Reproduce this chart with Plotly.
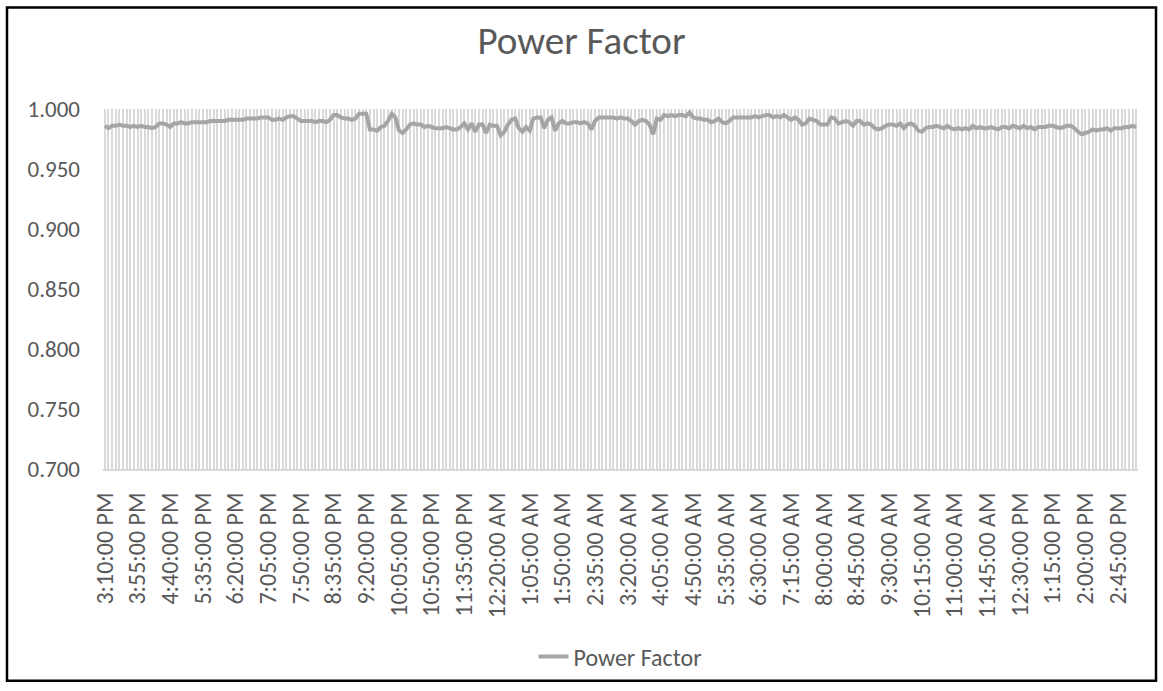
from datetime import datetime, timedelta
import plotly.graph_objects as go

# axis labels shown under the chart (every 9th reading)
tick_labels = [
    "3:10:00 PM", "3:55:00 PM", "4:40:00 PM", "5:35:00 PM", "6:20:00 PM", "7:05:00 PM",
    "7:50:00 PM", "8:35:00 PM", "9:20:00 PM", "10:05:00 PM", "10:50:00 PM", "11:35:00 PM",
    "12:20:00 AM", "1:05:00 AM", "1:50:00 AM", "2:35:00 AM", "3:20:00 AM", "4:05:00 AM",
    "4:50:00 AM", "5:35:00 AM", "6:30:00 AM", "7:15:00 AM", "8:00:00 AM", "8:45:00 AM",
    "9:30:00 AM", "10:15:00 AM", "11:00:00 AM", "11:45:00 AM", "12:30:00 PM", "1:15:00 PM",
    "2:00:00 PM", "2:45:00 PM",
]

# power factor readings, 5 minute log
power_factor = [
    0.986, 0.984, 0.986, 0.986, 0.987, 0.986, 0.986, 0.985, 0.986,
    0.985, 0.986, 0.985, 0.985, 0.984, 0.985, 0.988, 0.988, 0.987,
    0.985, 0.988, 0.988, 0.989, 0.988, 0.988, 0.989, 0.989, 0.989,
    0.989, 0.989, 0.990, 0.990, 0.990, 0.990, 0.990, 0.991, 0.991,
    0.991, 0.991, 0.991, 0.992, 0.992, 0.992, 0.992, 0.993, 0.993,
    0.993, 0.991, 0.991, 0.992, 0.991, 0.993, 0.994, 0.994, 0.992,
    0.990, 0.990, 0.990, 0.990, 0.989, 0.990, 0.990, 0.989, 0.991,
    0.995, 0.995, 0.993, 0.992, 0.992, 0.991, 0.992, 0.996, 0.996,
    0.996, 0.983, 0.983, 0.982, 0.985, 0.986, 0.990, 0.996, 0.993,
    0.982, 0.980, 0.983, 0.987, 0.988, 0.987, 0.987, 0.985, 0.986,
    0.985, 0.984, 0.984, 0.984, 0.985, 0.984, 0.983, 0.983, 0.985,
    0.988, 0.983, 0.988, 0.981, 0.987, 0.987, 0.980, 0.987, 0.986,
    0.986, 0.978, 0.981, 0.987, 0.991, 0.992, 0.984, 0.981, 0.985,
    0.982, 0.992, 0.993, 0.993, 0.984, 0.991, 0.993, 0.982, 0.988,
    0.990, 0.988, 0.988, 0.989, 0.989, 0.988, 0.989, 0.988, 0.983,
    0.990, 0.993, 0.993, 0.993, 0.993, 0.993, 0.992, 0.993, 0.992,
    0.992, 0.990, 0.987, 0.990, 0.991, 0.990, 0.987, 0.979, 0.992,
    0.991, 0.995, 0.994, 0.995, 0.994, 0.995, 0.995, 0.994, 0.997,
    0.993, 0.992, 0.992, 0.991, 0.991, 0.989, 0.990, 0.992, 0.989,
    0.988, 0.990, 0.993, 0.993, 0.993, 0.993, 0.993, 0.993, 0.994,
    0.993, 0.994, 0.995, 0.995, 0.993, 0.994, 0.993, 0.995, 0.993,
    0.991, 0.993, 0.991, 0.987, 0.988, 0.992, 0.991, 0.990, 0.987,
    0.987, 0.987, 0.993, 0.992, 0.988, 0.989, 0.990, 0.989, 0.986,
    0.990, 0.990, 0.987, 0.988, 0.987, 0.984, 0.983, 0.984, 0.986,
    0.987, 0.987, 0.986, 0.988, 0.984, 0.987, 0.988, 0.986, 0.982,
    0.981, 0.984, 0.985, 0.985, 0.986, 0.985, 0.984, 0.986, 0.984,
    0.983, 0.984, 0.983, 0.984, 0.983, 0.986, 0.984, 0.985, 0.984,
    0.984, 0.985, 0.984, 0.983, 0.985, 0.985, 0.984, 0.986, 0.985,
    0.984, 0.986, 0.984, 0.985, 0.983, 0.985, 0.985, 0.985, 0.986,
    0.986, 0.985, 0.984, 0.985, 0.986, 0.986, 0.984, 0.981, 0.979,
    0.980, 0.981, 0.983, 0.982, 0.983, 0.983, 0.984, 0.982, 0.984,
    0.984, 0.984, 0.985, 0.985, 0.986, 0.985,
]

# full timestamp axis (log runs past midnight into the next afternoon)
stamps = []
day = datetime(2020, 1, 1)
prev = None
for lab in tick_labels:
    tod = datetime.strptime(lab, "%I:%M:%S %p")
    t0 = day.replace(hour=tod.hour, minute=tod.minute)
    if prev is not None and t0 < prev:
        day += timedelta(days=1)
        t0 += timedelta(days=1)
    for k in range(9):
        stamps.append(t0 + timedelta(minutes=5 * k))
    prev = t0
stamps = stamps[:len(power_factor)]
times = [s.strftime("%Y-%m-%d %H:%M") for s in stamps]
tick_text = [s.strftime("%-I:%M:%S %p") if i % 9 == 0 else "" for i, s in enumerate(stamps)]

FONT = "Calibri, Carlito, Lato, sans-serif"
W, H = 1163, 691
L, R, T, B = 103, 25, 109, 220
pw, ph = W - L - R, H - T - B

fig = go.Figure(go.Scatter(
    x=times, y=power_factor,
    mode="lines", name="Power Factor",
    line=dict(color="#a5a5a5", width=4),
))

fig.update_layout(
    width=W, height=H,
    margin=dict(l=L, r=R, t=T, b=B),
    paper_bgcolor="white", plot_bgcolor="white",
    title=dict(text="Power Factor", x=0.5, xanchor="center", y=1 - 40 / H, yanchor="middle",
               font=dict(family=FONT, size=39, color="#595959")),
    showlegend=True,
    legend=dict(orientation="h", x=0.5, xanchor="center", y=(T + ph - 660) / ph, yanchor="middle",
                font=dict(family=FONT, size=24, color="#595959")),
    font=dict(family=FONT, color="#595959"),
)
fig.update_xaxes(
    type="category", tickmode="array", tickvals=times, ticktext=tick_text,
    tickangle=-90, tickfont=dict(family=FONT, size=24, color="#595959"),
    range=[-0.5, len(times) - 0.5],
    showgrid=True, gridcolor="#d9d9d9", gridwidth=2,
    showline=True, linecolor="#d9d9d9", linewidth=2,
    ticks="", ticklabelstandoff=12,
)
fig.update_yaxes(
    range=[0.7, 1.0], dtick=0.05, tickformat=".3f",
    tickfont=dict(family=FONT, size=23, color="#595959"),
    showgrid=False, zeroline=False, showline=False, ticklabelstandoff=22,
)
# chart area border
fig.add_shape(type="rect", xref="paper", yref="paper",
              x0=(7 - L) / pw, x1=(W - 7 - L) / pw,
              y0=(T + ph - (H - 7)) / ph, y1=(T + ph - 7) / ph,
              line=dict(color="black", width=2.5), fillcolor="rgba(0,0,0,0)")

fig.write_html("out.html", config={"displayModeBar": False},
               post_script="document.body.style.margin='0';document.body.style.overflow='hidden';")
